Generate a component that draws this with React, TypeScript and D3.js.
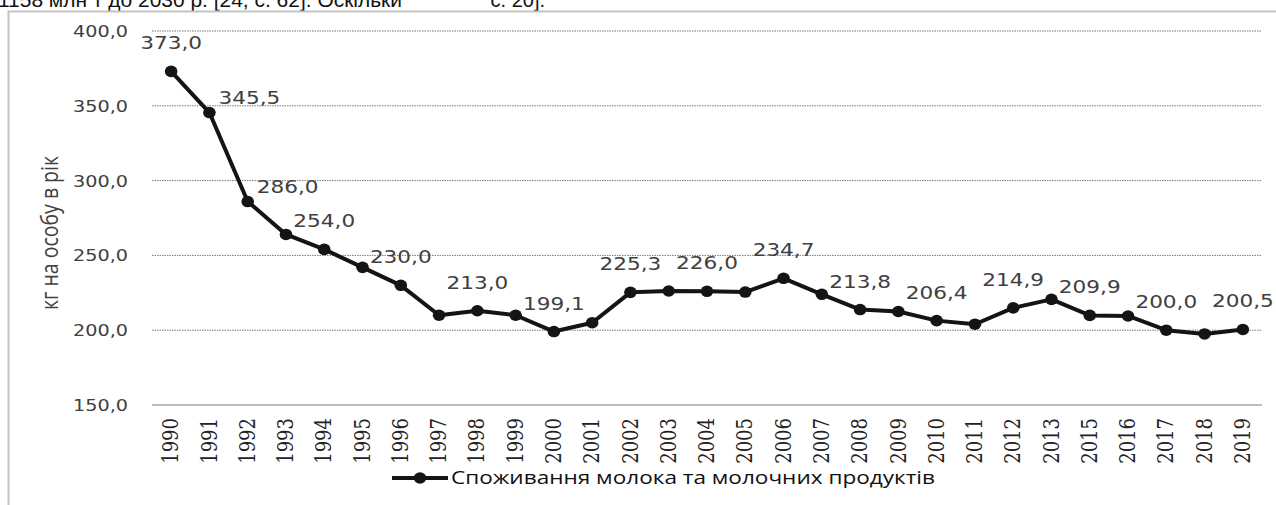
import React from "react";
import * as d3 from "d3";

// споживання молока, кг на особу в рік
const years = [
  "1990", "1991", "1992", "1993", "1994", "1995", "1996", "1997", "1998", "1999",
  "2000", "2001", "2002", "2003", "2004", "2005", "2006", "2007", "2008", "2009",
  "2010", "2011", "2012", "2013", "2015", "2016", "2017", "2018", "2019",
];
const milk = [
  373.0, 345.5, 286.0, 264.0, 254.0, 242.0, 230.0, 210.0, 213.0, 210.0,
  199.1, 205.0, 225.3, 226.2, 226.0, 225.5, 234.7, 224.0, 213.8, 212.5,
  206.4, 204.0, 214.9, 220.6, 209.9, 209.5, 200.0, 197.5, 200.5,
];
// which points carry a value label
const labelYears = [
  "1990", "1991", "1992", "1994", "1996", "1998", "2000", "2002", "2004",
  "2006", "2008", "2010", "2012", "2015", "2017", "2019",
];
const yTicks = [150, 200, 250, 300, 350, 400];
const seriesName = "Споживання молока та молочних продуктів";
const yTitle = "кг на особу в рік";
const headText = "1158 млн т до 2030 р. [24, с. 62]. Оскільки";
const headTail = "с. 20].";

const W = 1276;
const H = 505;
const SX = 1.2; // the source image is stretched sideways
const fmt = (v: number) => d3.format(".1f")(v).replace(".", ",");

export default function App() {
  const x = d3.scaleBand<string>().domain(years).range([152, 1262]).padding(0);
  const y = d3.scaleLinear().domain([150, 400]).range([405, 31]);
  const cx = (yr: string) => (x(yr) as number) + x.bandwidth() / 2;

  const line = d3
    .line<number>()
    .x((_, i) => cx(years[i]))
    .y((d) => y(d));

  const stretch = (px: number, py: number, extra = "") =>
    `translate(${px},${py}) scale(${SX},1)${extra}`;

  return (
    <svg
      width={W}
      height={H}
      style={{ position: "absolute", left: 0, top: 0, background: "#fff" }}
    >
      {/* cut-off line of the page text above the chart */}
      <g fontFamily="Liberation Sans, Arial, sans-serif" fontSize={20} fill="#111">
        <text x={-2} y={7} textLength={404} lengthAdjust="spacingAndGlyphs">
          {headText}
        </text>
        <text x={545} y={7} textAnchor="end">
          {headTail}
        </text>
      </g>

      {/* chart frame */}
      <path d={`M8.5,${H} V11.5 H${W}`} fill="none" stroke="#c4c4c4" strokeWidth={2} />

      {/* grid + y ticks */}
      {yTicks.map((t) => (
        <g key={t}>
          {t > 150 && (
            <line
              x1={152}
              x2={1262}
              y1={y(t)}
              y2={y(t)}
              stroke="#7a7a7a"
              strokeWidth={1}
              strokeDasharray="1.5,1"
            />
          )}
          <text
            transform={stretch(128, y(t) + 6)}
            textAnchor="end"
            fontFamily="DejaVu Sans, Verdana, sans-serif"
            fontSize={16}
            fill="#404040"
          >
            {fmt(t)}
          </text>
        </g>
      ))}
      <line x1={152} x2={1262} y1={405} y2={405} stroke="#a8a8a8" strokeWidth={1.5} />

      {/* y title */}
      <text
        transform={stretch(58, 233, " rotate(-90)")}
        textAnchor="middle"
        fontFamily="Open Sans, Noto Sans, sans-serif"
        fontSize={19.5}
        fill="#404040"
      >
        {yTitle}
      </text>

      {/* x tick labels */}
      {years.map((yr) => (
        <text
          key={yr}
          transform={stretch(cx(yr), 418, " rotate(-90)")}
          dy="0.33em"
          textAnchor="end"
          fontFamily="'DejaVu Serif', 'Liberation Serif', serif"
          fontSize={18}
          fill="#222"
        >
          {yr}
        </text>
      ))}

      {/* series */}
      <path d={line(milk) || ""} fill="none" stroke="#141414" strokeWidth={4} strokeLinejoin="round" />
      {milk.map((v, i) => (
        <ellipse key={years[i]} cx={cx(years[i])} cy={y(v)} rx={6.3} ry={5.8} fill="#141414" />
      ))}

      {/* value labels */}
      {labelYears.map((yr, i) => {
        const v = milk[years.indexOf(yr)];
        const right = i === 1 || i === 2;
        return (
          <text
            key={yr}
            transform={right ? stretch(cx(yr) + 9, y(v) - 9) : stretch(cx(yr), y(v) - 22)}
            textAnchor={right ? "start" : "middle"}
            fontFamily="DejaVu Sans, Verdana, sans-serif"
            fontSize={18}
            fill="#404040"
          >
            {fmt(v)}
          </text>
        );
      })}

      {/* legend */}
      <line x1={392} x2={448} y1={478} y2={478} stroke="#141414" strokeWidth={4} />
      <ellipse cx={420} cy={478} rx={6.3} ry={5.8} fill="#141414" />
      <text
        x={451}
        y={484}
        fontFamily="Open Sans, Noto Sans, sans-serif"
        fontSize={18}
        textLength={484}
        lengthAdjust="spacingAndGlyphs"
        fill="#111"
      >
        {seriesName}
      </text>
    </svg>
  );
}
